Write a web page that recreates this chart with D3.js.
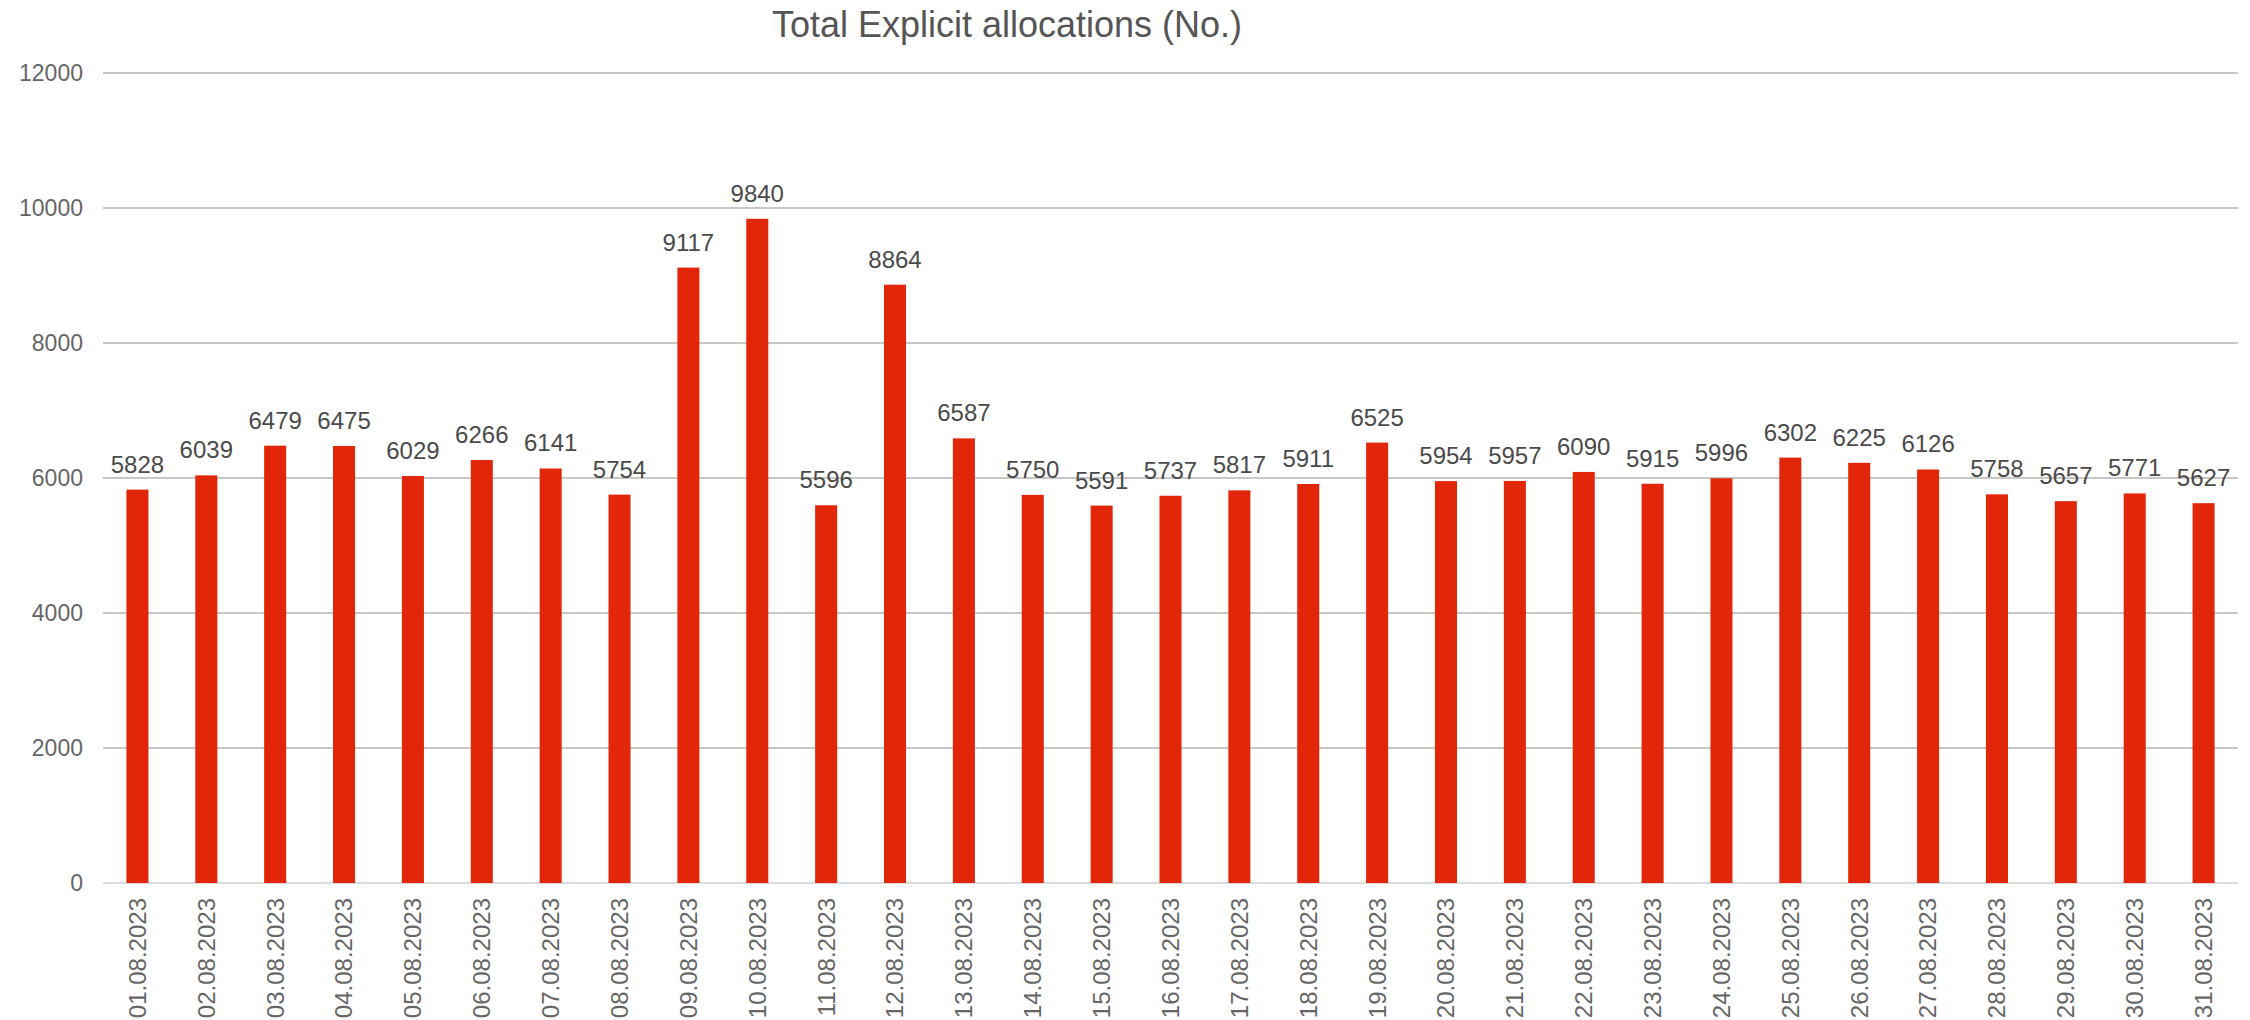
<!DOCTYPE html>
<html>
<head>
<meta charset="utf-8">
<script src="https://cdn.jsdelivr.net/npm/d3@7"></script>
<style>
  html, body { margin: 0; padding: 0; background: #ffffff; }
  svg { display: block; font-family: "Liberation Sans", Arial, sans-serif; }
</style>
</head>
<body>
<svg id="chart" width="2250" height="1020"></svg>
<script>
const dates = [
  "01.08.2023","02.08.2023","03.08.2023","04.08.2023","05.08.2023","06.08.2023","07.08.2023","08.08.2023",
  "09.08.2023","10.08.2023","11.08.2023","12.08.2023","13.08.2023","14.08.2023","15.08.2023","16.08.2023",
  "17.08.2023","18.08.2023","19.08.2023","20.08.2023","21.08.2023","22.08.2023","23.08.2023","24.08.2023",
  "25.08.2023","26.08.2023","27.08.2023","28.08.2023","29.08.2023","30.08.2023","31.08.2023"
];
const allocations = [
  5828, 6039, 6479, 6475, 6029, 6266, 6141, 5754,
  9117, 9840, 5596, 8864, 6587, 5750, 5591, 5737,
  5817, 5911, 6525, 5954, 5957, 6090, 5915, 5996,
  6302, 6225, 6126, 5758, 5657, 5771, 5627
];
const yTicks = [0, 2000, 4000, 6000, 8000, 10000, 12000];
const titleText = "Total Explicit allocations (No.)";

(function () {
const svg = d3.select("#chart");
const plotLeft = 103, plotRight = 2238, plotTop = 73, plotBottom = 883;

const x = d3.scaleBand().domain(dates).range([plotLeft, plotRight]).paddingInner(0.68).paddingOuter(0.34);
const y = d3.scaleLinear().domain([0, 12000]).range([plotBottom, plotTop]);

// gridlines
svg.append("g").selectAll("line").data(yTicks.filter(d => d > 0)).join("line")
  .attr("x1", plotLeft).attr("x2", plotRight)
  .attr("y1", d => y(d)).attr("y2", d => y(d))
  .attr("stroke", "#b4b4b4").attr("stroke-width", 1.6);

// baseline
svg.append("line").attr("x1", plotLeft).attr("x2", plotRight)
  .attr("y1", y(0)).attr("y2", y(0))
  .attr("stroke", "#cfd0d6").attr("stroke-width", 1.6);

// y tick labels
svg.append("g").selectAll("text").data(yTicks).join("text")
  .attr("x", 83).attr("y", d => y(d)).attr("dy", "0.35em")
  .attr("text-anchor", "end").attr("font-size", 23).attr("fill", "#666")
  .text(d => d);

// bars
svg.append("g").selectAll("rect").data(allocations).join("rect")
  .attr("x", (d, i) => x(dates[i])).attr("width", x.bandwidth())
  .attr("y", d => y(d)).attr("height", d => y(0) - y(d))
  .attr("fill", "#e2260a");

// value labels
svg.append("g").selectAll("text").data(allocations).join("text")
  .attr("x", (d, i) => x(dates[i]) + x.bandwidth() / 2)
  .attr("y", d => y(d) - 17)
  .attr("text-anchor", "middle").attr("font-size", 24).attr("fill", "#4a4a4a")
  .text(d => d);

// x labels
svg.append("g").selectAll("text").data(dates).join("text")
  .attr("transform", d => `translate(${x(d) + x.bandwidth() / 2},898) rotate(-90)`)
  .attr("dy", "0.35em")
  .attr("text-anchor", "end").attr("font-size", 24).attr("fill", "#666")
  .text(d => d);

// title
svg.append("text")
  .attr("x", 1007).attr("y", 37).attr("text-anchor", "middle")
  .attr("font-size", 36).attr("fill", "#555")
  .text(titleText);
})();
</script>
</body>
</html>
